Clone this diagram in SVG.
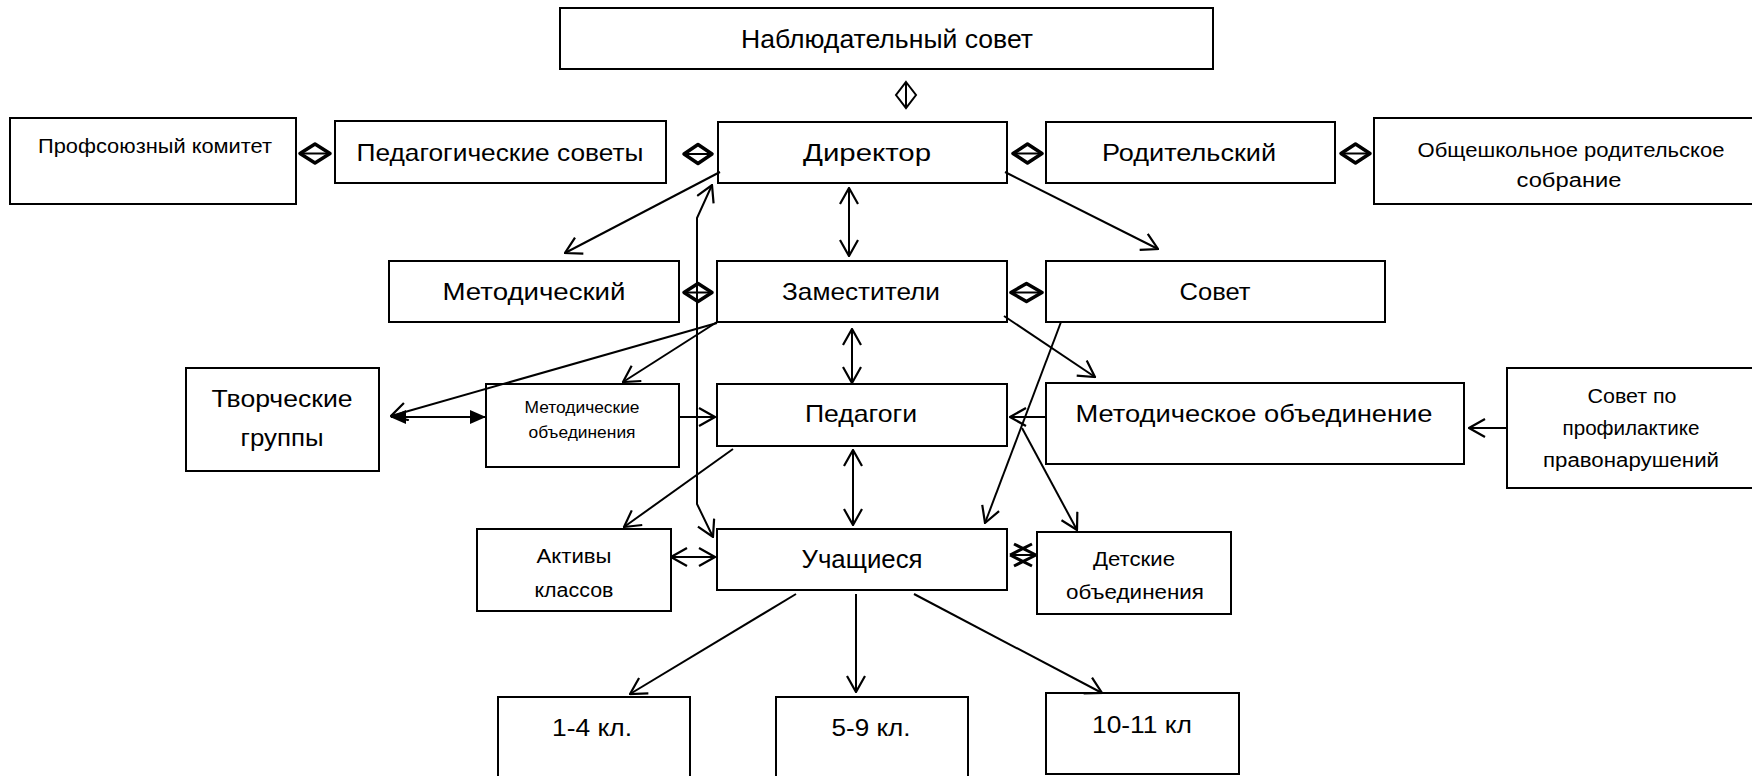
<svg xmlns="http://www.w3.org/2000/svg" width="1752" height="776" viewBox="0 0 1752 776">
<style>
.box{fill:#fff;stroke:#000;stroke-width:2}
text{font-family:"Liberation Sans",Arial,sans-serif;fill:#000;text-anchor:middle}
.l{font-size:24px}
.xl{font-size:26px}
.m{font-size:20px}
.s{font-size:16px}
.c{fill:none;stroke:#000;stroke-width:2}
.arr{marker-end:url(#open)}
.both{marker-start:url(#open);marker-end:url(#open)}
.dia{fill:none;stroke:#000;stroke-width:3.5;stroke-linejoin:round}
</style>
<defs>
<marker id="open" viewBox="0 0 18 20" refX="17" refY="10" markerWidth="18" markerHeight="20" markerUnits="userSpaceOnUse" orient="auto-start-reverse">
<path d="M1,1 L17,10 L1,19" fill="none" stroke="#000" stroke-width="2.2"/>
</marker>
<marker id="filled" viewBox="0 0 16 16" refX="15" refY="8" markerWidth="16" markerHeight="16" markerUnits="userSpaceOnUse" orient="auto-start-reverse">
<path d="M0,1 L16,8 L0,15 Z" fill="#000"/>
</marker>
</defs>
<rect width="1752" height="776" fill="#fff"/>

<g id="nodes">
<g id="n-nabl"><rect class="box" x="560" y="8" width="653" height="61"/><text class="xl" x="887" y="48" textLength="292" lengthAdjust="spacingAndGlyphs">Наблюдательный совет</text></g>
<g id="n-prof"><rect class="box" x="10" y="118" width="286" height="86"/><text class="m" x="155" y="153" textLength="234" lengthAdjust="spacingAndGlyphs">Профсоюзный комитет</text></g>
<g id="n-pedsov"><rect class="box" x="335" y="121" width="331" height="62"/><text class="l" x="500" y="161" textLength="287" lengthAdjust="spacingAndGlyphs">Педагогические советы</text></g>
<g id="n-dir"><rect class="box" x="718" y="122" width="289" height="61"/><text class="l" x="867" y="161" textLength="128" lengthAdjust="spacingAndGlyphs">Директор</text></g>
<g id="n-rod"><rect class="box" x="1046" y="122" width="289" height="61"/><text class="l" x="1189" y="161" textLength="174" lengthAdjust="spacingAndGlyphs">Родительский</text></g>
<g id="n-obsh"><rect class="box" x="1374" y="118" width="390" height="86"/><text class="m" x="1571" y="157" textLength="307" lengthAdjust="spacingAndGlyphs">Общешкольное родительское</text><text class="m" x="1569" y="187" textLength="105" lengthAdjust="spacingAndGlyphs">собрание</text></g>
<g id="n-metod"><rect class="box" x="389" y="261" width="290" height="61"/><text class="l" x="534" y="300" textLength="183" lengthAdjust="spacingAndGlyphs">Методический</text></g>
<g id="n-zam"><rect class="box" x="717" y="261" width="290" height="61"/><text class="l" x="861" y="300" textLength="158" lengthAdjust="spacingAndGlyphs">Заместители</text></g>
<g id="n-sovet"><rect class="box" x="1046" y="261" width="339" height="61"/><text class="l" x="1215" y="300" textLength="71" lengthAdjust="spacingAndGlyphs">Совет</text></g>
<g id="n-tvor"><rect class="box" x="186" y="368" width="193" height="103"/><text class="l" x="282" y="407" textLength="141" lengthAdjust="spacingAndGlyphs">Творческие</text><text class="l" x="282" y="446" textLength="83" lengthAdjust="spacingAndGlyphs">группы</text></g>
<g id="n-metob-s"><rect class="box" x="486" y="384" width="193" height="83"/><text class="s" x="582" y="413" textLength="115" lengthAdjust="spacingAndGlyphs">Методические</text><text class="s" x="582" y="438" textLength="107" lengthAdjust="spacingAndGlyphs">объединения</text></g>
<g id="n-ped"><rect class="box" x="717" y="384" width="290" height="62"/><text class="l" x="861" y="422" textLength="112" lengthAdjust="spacingAndGlyphs">Педагоги</text></g>
<g id="n-metob"><rect class="box" x="1046" y="383" width="418" height="81"/><text class="l" x="1254" y="422" textLength="357" lengthAdjust="spacingAndGlyphs">Методическое объединение</text></g>
<g id="n-sovprof"><rect class="box" x="1507" y="368" width="260" height="120"/><text class="m" x="1632" y="403" textLength="89" lengthAdjust="spacingAndGlyphs">Совет по</text><text class="m" x="1631" y="435" textLength="137" lengthAdjust="spacingAndGlyphs">профилактике</text><text class="m" x="1631" y="467" textLength="176" lengthAdjust="spacingAndGlyphs">правонарушений</text></g>
<g id="n-aktiv"><rect class="box" x="477" y="529" width="194" height="82"/><text class="m" x="574" y="563" textLength="75" lengthAdjust="spacingAndGlyphs">Активы</text><text class="m" x="574" y="597" textLength="79" lengthAdjust="spacingAndGlyphs">классов</text></g>
<g id="n-uch"><rect class="box" x="717" y="529" width="290" height="61"/><text class="xl" x="862" y="568" textLength="121" lengthAdjust="spacingAndGlyphs">Учащиеся</text></g>
<g id="n-det"><rect class="box" x="1037" y="532" width="194" height="82"/><text class="m" x="1134" y="566" textLength="82" lengthAdjust="spacingAndGlyphs">Детские</text><text class="m" x="1135" y="599" textLength="138" lengthAdjust="spacingAndGlyphs">объединения</text></g>
<g id="n-k14"><rect class="box" x="498" y="697" width="192" height="90"/><text class="l" x="592" y="736" textLength="80" lengthAdjust="spacingAndGlyphs">1-4 кл.</text></g>
<g id="n-k59"><rect class="box" x="776" y="697" width="192" height="90"/><text class="l" x="871" y="736" textLength="79" lengthAdjust="spacingAndGlyphs">5-9 кл.</text></g>
<g id="n-k1011"><rect class="box" x="1046" y="693" width="193" height="81"/><text class="l" x="1142" y="733" textLength="100" lengthAdjust="spacingAndGlyphs">10-11 кл</text></g>
</g>

<g id="connectors">
<!-- diamond links -->
<g>
<path class="c" d="M906,82 L906,108"/><path class="c" d="M906,82 L916,95 L906,108 L896,95 Z"/>
</g>
<g>
<path class="dia" d="M300,153.5 L315,144 L330,153.5 L315,163 Z"/><path class="c" d="M300,153.5 L330,153.5"/>
<path class="dia" d="M684,154 L698,144.5 L712,154 L698,163.5 Z"/><path class="c" d="M684,154 L712,154"/>
<path class="dia" d="M1013,153.5 L1027.5,144 L1042,153.5 L1027.5,163 Z"/><path class="c" d="M1013,153.5 L1042,153.5"/>
<path class="dia" d="M1341,153.5 L1355.5,144 L1370,153.5 L1355.5,163 Z"/><path class="c" d="M1341,153.5 L1370,153.5"/>
<path class="dia" d="M684,292.5 L698,283.5 L712,292.5 L698,301.5 Z"/><path class="c" d="M684,292.5 L712,292.5"/>
<path class="dia" d="M1011,292.5 L1026.5,283.5 L1042,292.5 L1026.5,301.5 Z"/><path class="c" d="M1011,292.5 L1042,292.5"/>
</g>
<g>
<path d="M1010,555 L1032,544 M1010,555 L1032,566 M1036,555 L1014,544 M1036,555 L1014,566" fill="none" stroke="#000" stroke-width="3"/>
<path class="c" d="M1011,555 L1036,555"/>
</g>
<!-- arrows -->
<path class="c arr" d="M720,172 L565,253"/>
<path class="c both" d="M849,188 L849,256"/>
<path class="c arr" d="M1005,172 L1158,249"/>
<path class="c both" d="M713,537 L697,504 L697,218 L712,185"/>
<path class="c arr" d="M717,323 L391,416"/>
<path class="c" d="M391,417 L485,417" stroke-width="2.5" marker-start="url(#filled)" marker-end="url(#filled)"/>
<path class="c arr" d="M717,322 L623,382"/>
<path class="c arr" d="M679,417 L715,417"/>
<path class="c both" d="M852,329 L852,383"/>
<path class="c arr" d="M1004,316 L1095,377"/>
<path class="c arr" d="M1061,322 L985,523"/>
<path class="c arr" d="M1046,417 L1010,417"/>
<path class="c arr" d="M1022,428 L1077,530"/>
<path class="c arr" d="M1507,428 L1469,428"/>
<path class="c arr" d="M733,449 L624,527"/>
<path class="c both" d="M853,450 L853,525"/>
<path class="c both" d="M671,557 L715,557"/>
<path class="c arr" d="M796,594 L630,694"/>
<path class="c arr" d="M856,594 L856,692"/>
<path class="c arr" d="M914,594 L1102,693"/>
</g>
</svg>
